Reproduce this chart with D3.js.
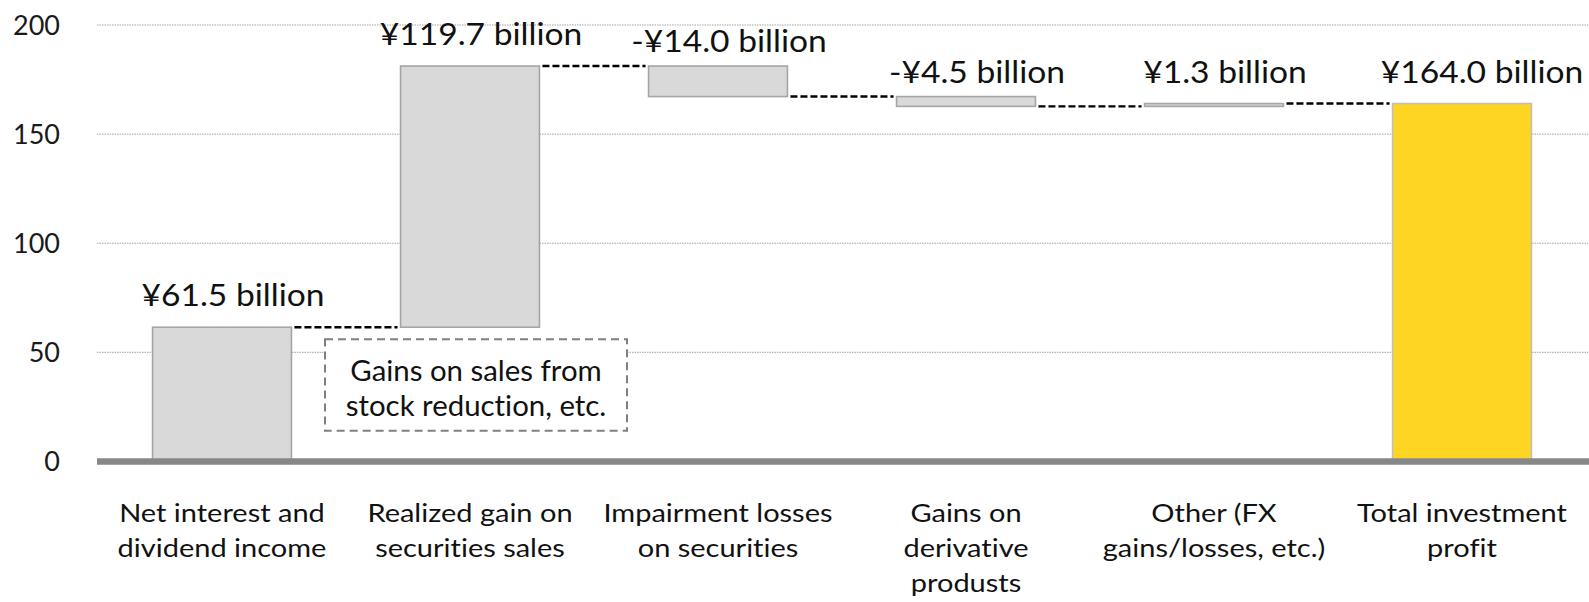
<!DOCTYPE html>
<html>
<head>
<meta charset="utf-8">
<script src="https://cdn.jsdelivr.net/npm/d3@7"></script>
<style>
  html, body { margin: 0; padding: 0; background: #ffffff; }
  svg { display: block; font-family: Lato, "Open Sans", sans-serif; }
  svg text { font-variant-ligatures: none; font-feature-settings: "liga" 0, "clig" 0; }
</style>
</head>
<body>
<svg id="chart" width="1589" height="602"></svg>
<script>
// Investment profit breakdown (¥ billion)
const categories = [
  ["Net interest and", "dividend income"],
  ["Realized gain on", "securities sales"],
  ["Impairment losses", "on securities"],
  ["Gains on", "derivative", "produsts"],
  ["Other (FX", "gains/losses, etc.)"],
  ["Total investment", "profit"]
];
const changes = [61.5, 119.7, -14.0, -4.5, 1.3, 164.0];
const isTotal = [false, false, false, false, false, true];
const yTicks = [0, 50, 100, 150, 200];
const noteLines = ["Gains on sales from", "stock reduction, etc."];

const W = 1589, H = 602;
const svg = d3.select("#chart");

const x = d3.scaleBand()
  .domain(d3.range(categories.length))
  .range([98, 1586])
  .paddingInner(0.44)
  .paddingOuter(0.22);

const y = d3.scaleLinear().domain([0, 200]).range([461.4, 25]);

// running totals for the waterfall
let run = 0;
const bars = changes.map((v, i) => {
  let start, end;
  if (isTotal[i]) { start = 0; end = v; run = v; }
  else { start = run; end = run + v; run = end; }
  return { i, v, start, end, lo: Math.min(start, end), hi: Math.max(start, end), total: isTotal[i] };
});

// y axis labels
const yAxis = d3.axisLeft(y).tickValues(yTicks).tickSize(0).tickPadding(0);
const gAxis = svg.append("g").attr("transform", "translate(60,0)").call(yAxis);
gAxis.select(".domain").remove();
gAxis.selectAll("text")
  .attr("font-size", 27)
  .attr("font-family", "Lato, sans-serif")
  .attr("fill", "#1a1a1a")
  .attr("dy", "0.34em");

// horizontal grid
svg.append("g").selectAll("line")
  .data(yTicks.filter(t => t > 0))
  .join("line")
  .attr("x1", 97).attr("x2", W)
  .attr("y1", d => y(d)).attr("y2", d => y(d))
  .attr("stroke", "#a3a3a3")
  .attr("stroke-width", 1)
  .attr("stroke-dasharray", "1.5,1");

// connectors between consecutive bars
const conn = [];
for (let i = 0; i < bars.length - 1; i++) {
  conn.push({ x1: x(i) + x.bandwidth() + 3, x2: x(i + 1) - 3, level: bars[i].end });
}
svg.append("g").selectAll("line")
  .data(conn)
  .join("line")
  .attr("x1", d => d.x1).attr("x2", d => d.x2)
  .attr("y1", d => y(d.level)).attr("y2", d => y(d.level))
  .attr("stroke", "#000")
  .attr("stroke-width", 2.4)
  .attr("stroke-dasharray", "7,3");

// bars
svg.append("g").selectAll("rect")
  .data(bars)
  .join("rect")
  .attr("x", d => x(d.i))
  .attr("width", x.bandwidth())
  .attr("y", d => y(d.hi))
  .attr("height", d => y(d.lo) - y(d.hi))
  .attr("fill", d => d.total ? "#fed523" : "#d9d9d9")
  .attr("stroke", d => d.total ? "#bfbfbf" : "#a5a5a5")
  .attr("stroke-width", 1.6);

// zero axis
svg.append("line")
  .attr("x1", 97).attr("x2", W)
  .attr("y1", y(0)).attr("y2", y(0))
  .attr("stroke", "#878787")
  .attr("stroke-width", 6.5);

// value labels
const fmt = v => (v < 0 ? "-" : "") + "¥" + d3.format(".1f")(Math.abs(v)) + " billion";
svg.append("g").selectAll("text")
  .data(bars)
  .join("text")
  .attr("transform", d => {
    const cx = x(d.i) + x.bandwidth() / 2 + (d.total ? 20 : 11);
    const by = y(d.hi) - (d.v < 0 ? 14 : 21);
    return `translate(${cx},${by}) scale(1.12,1)`;
  })
  .attr("text-anchor", "middle")
  .attr("font-size", 30)
  .attr("fill", "#111")
  .text(d => fmt(d.v));

// category labels
const cat = svg.append("g").selectAll("text")
  .data(categories)
  .join("text")
  .attr("text-anchor", "middle")
  .attr("font-size", 25)
  .attr("fill", "#111")
  .attr("transform", (d, i) => `translate(${x(i) + x.bandwidth() / 2},522) scale(1.16,1)`);
cat.selectAll("tspan")
  .data(d => d)
  .join("tspan")
  .attr("x", 0)
  .attr("y", (d, j) => j * 35)
  .text(d => d);

// note box under the realized-gain bar
const nx = x(1) + x.bandwidth() / 2 + 6;
const note = svg.append("g").attr("transform", `translate(${nx},0)`);
note.append("rect")
  .attr("x", -151).attr("width", 302)
  .attr("y", y(56)).attr("height", y(14) - y(56))
  .attr("fill", "#fff")
  .attr("stroke", "#808080")
  .attr("stroke-width", 2)
  .attr("stroke-dasharray", "8,5");
note.append("text")
  .attr("text-anchor", "middle")
  .attr("font-size", 28)
  .attr("fill", "#111")
  .attr("transform", "scale(1.05,1)")
  .selectAll("tspan")
  .data(noteLines)
  .join("tspan")
  .attr("x", 0)
  .attr("y", (d, j) => 381.5 + j * 34.5)
  .text(d => d);
</script>
</body>
</html>
